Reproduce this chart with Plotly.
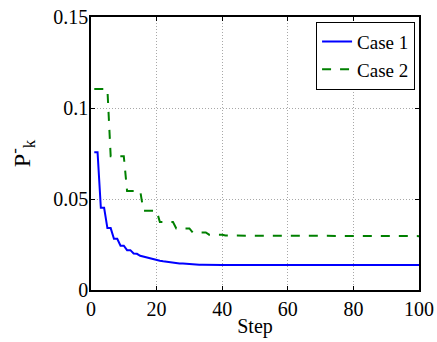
import plotly.graph_objects as go

steps = list(range(1, 101))

case1 = [
    0.0757, 0.0757, 0.0452, 0.0452, 0.0340, 0.0340, 0.0281, 0.0281, 0.0243, 0.0243,
    0.0219, 0.0219, 0.0201, 0.0199, 0.0188, 0.0183, 0.0178, 0.0172, 0.0168, 0.0165,
    0.0161, 0.0158, 0.0155, 0.0152, 0.0150, 0.0148, 0.0146, 0.0145, 0.0143, 0.0142,
    0.0141, 0.0140, 0.0139, 0.0139, 0.0138, 0.0138, 0.0138, 0.0137, 0.0137, 0.0137,
    0.0137, 0.0137, 0.0137, 0.0137, 0.0137, 0.0137, 0.0137, 0.0137, 0.0137, 0.0137,
    0.0137, 0.0137, 0.0137, 0.0137, 0.0137, 0.0137, 0.0137, 0.0137, 0.0137, 0.0137,
    0.0137, 0.0137, 0.0137, 0.0137, 0.0137, 0.0137, 0.0137, 0.0137, 0.0137, 0.0137,
    0.0137, 0.0137, 0.0137, 0.0137, 0.0137, 0.0137, 0.0137, 0.0137, 0.0137, 0.0137,
    0.0137, 0.0137, 0.0137, 0.0137, 0.0137, 0.0137, 0.0137, 0.0137, 0.0137, 0.0137,
    0.0137, 0.0137, 0.0137, 0.0137, 0.0137, 0.0137, 0.0137, 0.0137, 0.0137, 0.0137,
]

case2 = [
    0.1104, 0.1104, 0.1104, 0.1104, 0.1104, 0.0735, 0.0735, 0.0735, 0.0735, 0.0735,
    0.0544, 0.0544, 0.0544, 0.0544, 0.0544, 0.0436, 0.0436, 0.0436, 0.0436, 0.0436,
    0.0373, 0.0373, 0.0373, 0.0373, 0.0373, 0.0338, 0.0338, 0.0338, 0.0338, 0.0338,
    0.0316, 0.0316, 0.0316, 0.0316, 0.0316, 0.0304, 0.0304, 0.0304, 0.0304, 0.0304,
    0.0299, 0.0299, 0.0299, 0.0299, 0.0299, 0.0297, 0.0297, 0.0297, 0.0297, 0.0297,
    0.0296, 0.0296, 0.0296, 0.0296, 0.0296, 0.0296, 0.0296, 0.0296, 0.0296, 0.0296,
    0.0296, 0.0296, 0.0296, 0.0296, 0.0296, 0.0296, 0.0296, 0.0296, 0.0296, 0.0296,
    0.0296, 0.0296, 0.0296, 0.0296, 0.0296, 0.0296, 0.0296, 0.0296, 0.0296, 0.0296,
    0.0296, 0.0296, 0.0296, 0.0296, 0.0296, 0.0296, 0.0296, 0.0296, 0.0296, 0.0296,
    0.0296, 0.0296, 0.0296, 0.0296, 0.0296, 0.0296, 0.0296, 0.0296, 0.0296, 0.0296,
]

series_names = ["Case 1", "Case 2"]
x_ticks = [0, 20, 40, 60, 80, 100]
y_ticks = [0, 0.05, 0.1, 0.15]
y_tick_labels = ["0", "0.05", "0.1", "0.15"]

FONT = "Liberation Serif, Times New Roman, serif"

fig = go.Figure()
fig.add_trace(go.Scatter(
    x=steps, y=case1, mode="lines", name=series_names[0],
    line=dict(color="#0000ff", width=2),
))
fig.add_trace(go.Scatter(
    x=steps, y=case2, mode="lines", name=series_names[1],
    line=dict(color="#008000", width=2, dash="dash"),
))

axis_common = dict(
    showline=True, linecolor="black", linewidth=1.5, mirror="allticks",
    ticks="inside", ticklen=4, tickcolor="black", tickwidth=1,
    showgrid=True, gridcolor="#a8a8a8", griddash="1px,2px", gridwidth=1,
    zeroline=False, automargin=False, ticklabeloverflow="allow",
    tickfont=dict(family=FONT, size=20, color="black"),
)

fig.update_xaxes(
    range=[0, 100], tickvals=x_ticks, ticktext=[str(v) for v in x_ticks],
    title=dict(text="Step", font=dict(family=FONT, size=20, color="black"), standoff=0),
    **axis_common,
)
fig.update_yaxes(
    range=[0, 0.15], tickvals=y_ticks, ticktext=y_tick_labels,
    ticklabelstandoff=-3,
    title=dict(text="P<sup>-</sup><sub>k</sub>", font=dict(family=FONT, size=24, color="black"), standoff=16),
    **axis_common,
)

fig.update_layout(
    width=437, height=342,
    margin=dict(l=91, r=18, t=17, b=52, autoexpand=False),
    paper_bgcolor="white", plot_bgcolor="white",
    font=dict(family=FONT, color="black"),
    showlegend=True,
    legend=dict(
        x=0.988, y=0.983, xanchor="right", yanchor="top",
        bgcolor="white", bordercolor="black", borderwidth=1,
        font=dict(family=FONT, size=19, color="black"),
        tracegroupgap=0, itemwidth=30,
    ),
)

fig.write_html(
    "out.html",
    config={"displayModeBar": False},
    post_script="document.body.style.margin='0';document.body.style.overflow='hidden';",
)
